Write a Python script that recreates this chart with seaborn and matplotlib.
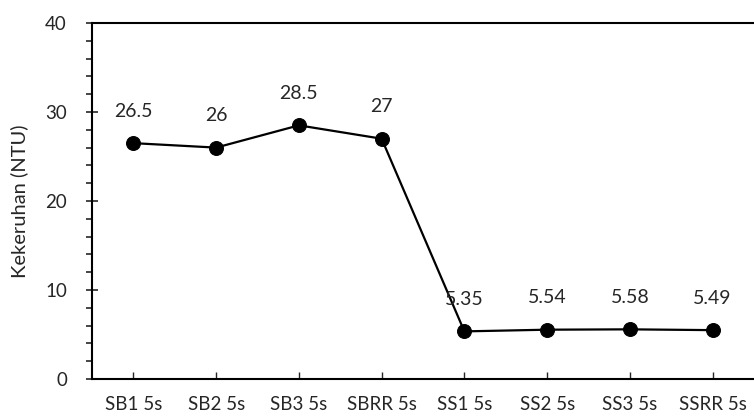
import matplotlib
matplotlib.use('Agg')
import pandas as pd
import seaborn as sns
import matplotlib.pyplot as plt
from matplotlib.ticker import MultipleLocator

samples = ['SB1 5s', 'SB2 5s', 'SB3 5s', 'SBRR 5s', 'SS1 5s', 'SS2 5s', 'SS3 5s', 'SSRR 5s']
turbidity = [26.5, 26, 28.5, 27, 5.35, 5.54, 5.58, 5.49]
value_labels = ['26.5', '26', '28.5', '27', '5.35', '5.54', '5.58', '5.49']

df = pd.DataFrame({'sample': samples, 'ntu': turbidity})

sns.set_style('white')
plt.rcParams['font.family'] = ['Lato', 'DejaVu Sans']

fig = plt.figure(figsize=(7.54, 4.18), dpi=100)
ax = fig.add_axes([92 / 754, 39 / 418, 1 - 92 / 754, 356 / 418])

sns.lineplot(data=df, x='sample', y='ntu', sort=False, color='black',
             marker='o', markersize=10, linewidth=1.6, markeredgecolor='black', ax=ax)

for i, (v, lab) in enumerate(zip(turbidity, value_labels)):
    ax.annotate(lab, (i, v), xytext=(0, 23), textcoords='offset points',
                ha='center', va='center', fontsize=14)

ax.set_xlim(-0.5, 7.5)
ax.set_ylim(0, 40)
ax.yaxis.set_major_locator(MultipleLocator(10))
ax.yaxis.set_minor_locator(MultipleLocator(2))
ax.tick_params(axis='y', which='major', direction='inout', length=8, width=1.2,
               labelsize=13.5, pad=14, left=True)
ax.tick_params(axis='y', which='minor', direction='out', length=4, width=1.2, left=True)
ax.tick_params(axis='x', which='major', direction='in', length=5, width=1.0,
               labelsize=13.5, pad=12, bottom=True)

for side in ['left', 'bottom', 'top']:
    ax.spines[side].set_color('black')
    ax.spines[side].set_linewidth(1.5)
ax.spines['right'].set_visible(False)

ax.set_xlabel('')
ax.set_ylabel('Kekeruhan (NTU)', fontsize=14.5, labelpad=12)

fig.savefig('out.png', dpi=100)
